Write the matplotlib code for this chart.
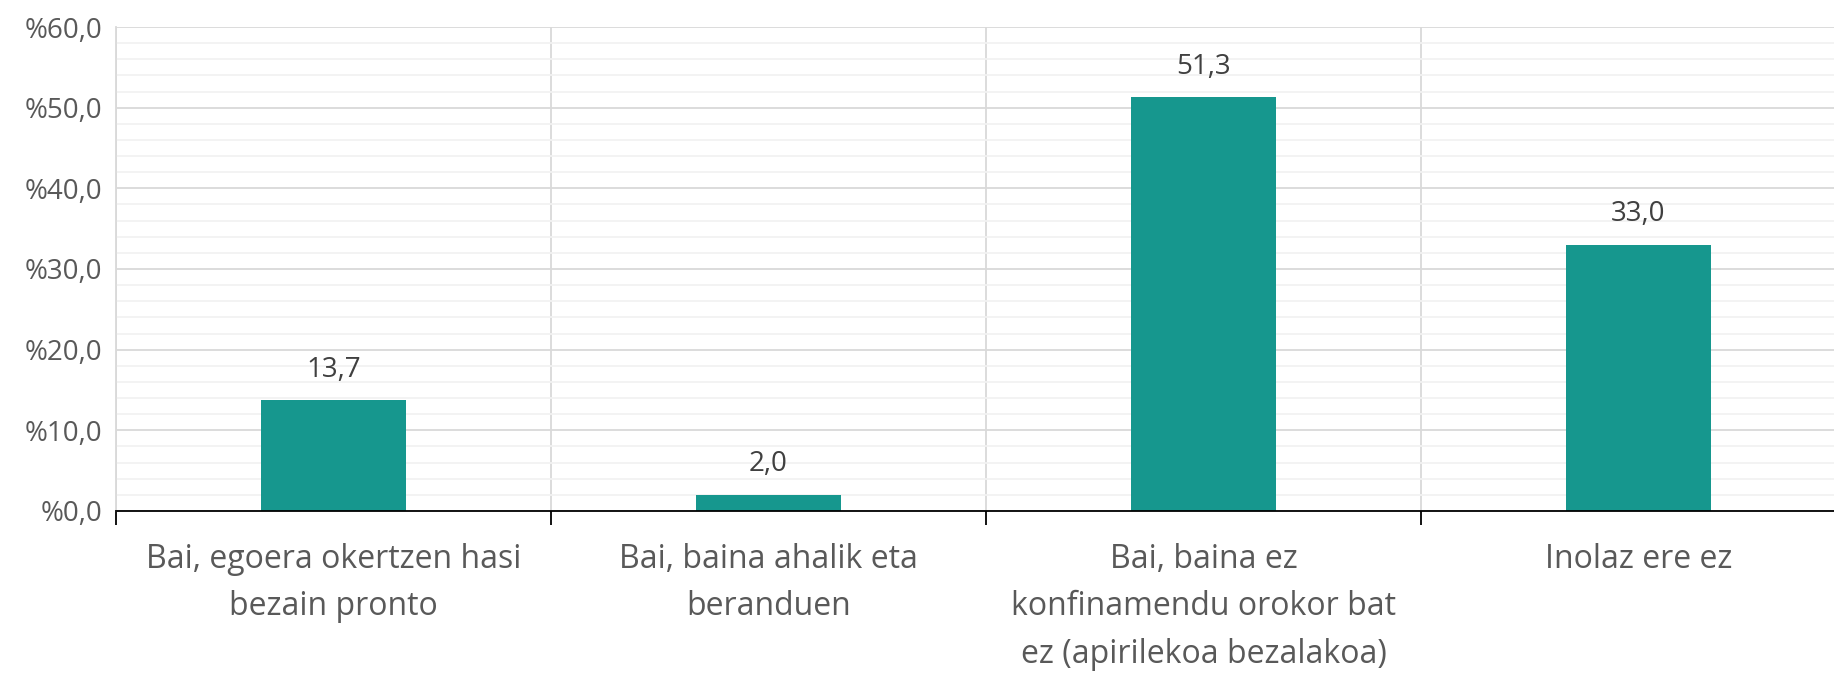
import matplotlib
matplotlib.use('Agg')
import matplotlib.pyplot as plt
from matplotlib.ticker import MultipleLocator
import numpy as np

# data
categories = ['Bai, egoera okertzen hasi\nbezain pronto',
              'Bai, baina ahalik eta\nberanduen',
              'Bai, baina ez\nkonfinamendu orokor bat\nez (apirilekoa bezalakoa)',
              'Inolaz ere ez']
values = [13.7, 2.0, 51.3, 33.0]
yticks = [0, 10, 20, 30, 40, 50, 60]
ytick_labels = ['%{:.1f}'.format(v).replace('.', ',') for v in yticks]

plt.rcParams['font.family'] = ['Open Sans', 'DejaVu Sans']

fig = plt.figure(figsize=(18.34, 6.75), dpi=100)
ax = fig.add_axes([0.0633, 0.243, 1.012 - 0.0633, 0.717])

x = np.arange(len(categories))
bars = ax.bar(x, values, width=0.333, color='#16978e', zorder=3)

for xi, v in zip(x, values):
    ax.annotate('{:.1f}'.format(v).replace('.', ','), (xi, v),
                xytext=(0, 12), textcoords='offset points',
                ha='center', va='bottom', fontsize=20, color='#404040')

ax.set_xlim(-0.5, 3.5)
ax.set_ylim(0, 60)

# y axis
ax.set_yticks(yticks)
ax.set_yticklabels(ytick_labels)
ax.yaxis.set_minor_locator(MultipleLocator(2))
ax.tick_params(axis='y', which='both', length=0, pad=10, labelsize=20, labelcolor='#595959')
ax.grid(axis='y', which='major', color='#d9d9d9', lw=1.3, zorder=0)
ax.grid(axis='y', which='minor', color='#f2f2f2', lw=1.3, zorder=0)

# x axis: boundaries as major ticks, labels at centers as minor
ax.set_xticks(np.arange(-0.5, 4, 1))
ax.set_xticklabels([])
ax.set_xticks(x, minor=True)
ax.set_xticklabels(categories, minor=True, linespacing=1.58)
ax.tick_params(axis='x', which='major', length=10, width=1.3, color='black', direction='out')
ax.tick_params(axis='x', which='minor', length=0, pad=23, labelsize=23, labelcolor='#595959')
ax.grid(axis='x', which='major', color='#d9d9d9', lw=1.3, zorder=0)

for s in ['top', 'right']:
    ax.spines[s].set_visible(False)
ax.spines['left'].set_color('#d9d9d9')
ax.spines['left'].set_linewidth(1.3)
ax.spines['bottom'].set_color('black')
ax.spines['bottom'].set_linewidth(1.3)
ax.spines['bottom'].set_zorder(4)

fig.savefig('out.png', dpi=100)
